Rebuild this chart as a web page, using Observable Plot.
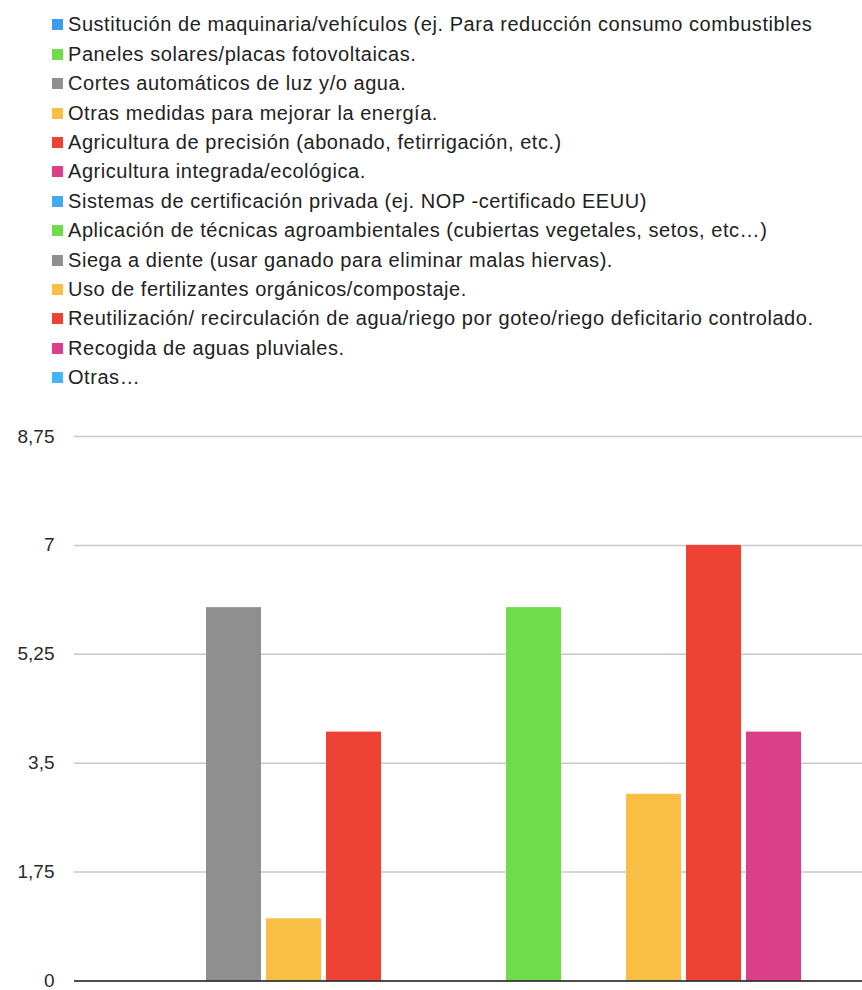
<!DOCTYPE html>
<html><head><meta charset="utf-8">
<script src="https://cdn.jsdelivr.net/npm/d3@7"></script>
<script src="https://cdn.jsdelivr.net/npm/@observablehq/plot@0.6"></script>
<style>
body{margin:0;background:#fff;font-family:"Liberation Sans",Arial,sans-serif;}
#legend{height:400px;box-sizing:border-box;padding-top:10.3px;padding-left:52px;}
.item{height:29.4px;display:flex;align-items:center;font-size:20px;color:#222;white-space:nowrap;letter-spacing:0.55px;}
.sw{width:11px;height:11px;margin-right:5px;flex:none;}
#chart svg{display:block;}
</style></head>
<body>
<div id="legend"></div>
<div id="chart"></div>
<script>
const categories = [
  "Sustitución de maquinaria/vehículos (ej. Para reducción consumo combustibles",
  "Paneles solares/placas fotovoltaicas.",
  "Cortes automáticos de luz y/o agua.",
  "Otras medidas para mejorar la energía.",
  "Agricultura de precisión (abonado, fetirrigación, etc.)",
  "Agricultura integrada/ecológica.",
  "Sistemas de certificación privada (ej. NOP -certificado EEUU)",
  "Aplicación de técnicas agroambientales (cubiertas vegetales, setos, etc…)",
  "Siega a diente (usar ganado para eliminar malas hiervas).",
  "Uso de fertilizantes orgánicos/compostaje.",
  "Reutilización/ recirculación de agua/riego por goteo/riego deficitario controlado.",
  "Recogida de aguas pluviales.",
  "Otras…"
];
const values = [0, 0, 6, 1, 4, 0, 0, 6, 0, 3, 7, 4, 0];
const colors = ["#3b9cf0", "#6edd4b", "#8f8f8f", "#f8bf44", "#ee4234", "#db3f8a",
                "#42aaf5", "#6edd4b", "#8f8f8f", "#f8bf44", "#ee4234", "#db3f8a", "#45b3f7"];
const yTicks = [0, 1.75, 3.5, 5.25, 7, 8.75];

const legend = document.getElementById("legend");
categories.forEach((c, i) => {
  const it = document.createElement("div");
  it.className = "item";
  const sw = document.createElement("span");
  sw.className = "sw";
  sw.style.background = colors[i];
  const tx = document.createElement("span");
  tx.textContent = c;
  it.appendChild(sw); it.appendChild(tx);
  legend.appendChild(it);
});

const data = categories.map((c, i) => ({cat: c, value: values[i]}));

const chart = Plot.plot({
  width: 862,
  height: 590,
  marginTop: 36,
  marginBottom: 9.5,
  marginLeft: 74,
  marginRight: 0,
  style: {fontFamily: "Liberation Sans, Arial, sans-serif", fontSize: "19px", color: "#333", background: "#fff"},
  x: {type: "band", domain: categories, range: [83.5, 863.5], paddingInner: 0.09, paddingOuter: 0.045, axis: null},
  y: {domain: [0, 8.75], label: null},
  color: {type: "ordinal", domain: categories, range: colors},
  marks: [
    Plot.ruleY(yTicks.filter(d => d > 0), {stroke: "#c8c8c8", strokeWidth: 1.5}),
    Plot.barY(data, {x: "cat", y: "value", fill: "cat"}),
    Plot.ruleY([0], {stroke: "#111", strokeWidth: 1.5}),
    Plot.axisY({ticks: yTicks, label: null, tickSize: 0, tickPadding: 20, tickFormat: d => String(d).replace(".", ","), fill: "#2a2a2a", fontSize: 19})
  ]
});
document.getElementById("chart").appendChild(chart);
</script>
</body></html>
